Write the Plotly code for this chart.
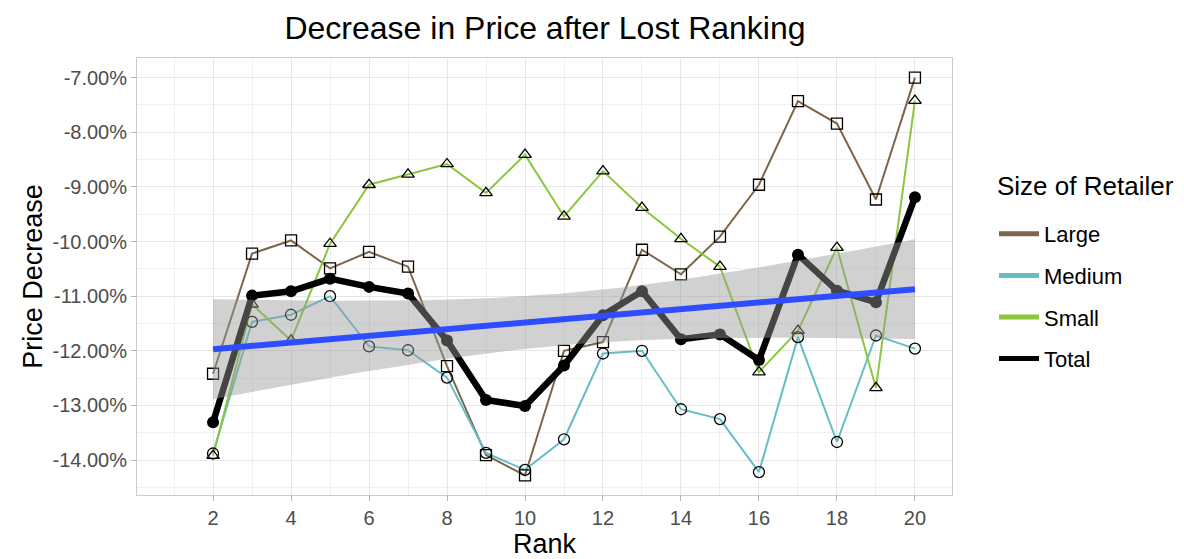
import numpy as np
import plotly.graph_objects as go

ranks = list(range(2, 21))

large = [-12.42, -10.22, -9.98, -10.49, -10.19, -10.46, -12.28, -13.91, -14.28, -12.00,
         -11.84, -10.15, -10.60, -9.91, -8.96, -7.43, -7.84, -9.23, -7.00]
medium = [-13.88, -11.47, -11.34, -11.00, -11.92, -11.99, -12.49, -13.87, -14.18, -13.62,
          -12.05, -12.00, -13.07, -13.25, -14.22, -11.75, -13.67, -11.72, -11.96]
small = [-13.92, -11.15, -11.81, -10.04, -8.96, -8.77, -8.58, -9.11, -8.41, -9.54,
         -8.71, -9.38, -9.95, -10.46, -12.39, -11.63, -10.11, -12.68, -7.42]
total = [-13.31, -10.99, -10.91, -10.68, -10.83, -10.95, -11.81, -12.90, -13.01, -12.27,
         -11.35, -10.91, -11.79, -11.70, -12.17, -10.24, -10.90, -11.11, -9.19]

series_names = ["Large", "Medium", "Small", "Total"]
series_colors = ["#7D6549", "#67BCCA", "#8CC63F", "#000000"]
y_ticks = [-14, -13, -12, -11, -10, -9, -8, -7]
x_ticks = list(range(2, 21, 2))

W, H = 1184, 559
L, R, T, B = 129, 240, 50, 72
PW, PH = W - L - R, H - T - B

fig = go.Figure()

groups = [(large, "square-open"), (medium, "circle-open"), (small, "triangle-up-open")]
for (vals, sym), name, col in zip(groups, series_names[:3], series_colors[:3]):
    fig.add_trace(go.Scatter(x=ranks, y=vals, mode="lines", line=dict(color=col, width=2),
                             showlegend=False, hoverinfo="skip"))
for (vals, sym), name, col in zip(groups, series_names[:3], series_colors[:3]):
    fig.add_trace(go.Scatter(x=ranks, y=vals, mode="markers",
                             marker=dict(symbol=sym, size=11, color="black", line=dict(width=1.3, color="black")),
                             showlegend=False, name=name))

fig.add_trace(go.Scatter(x=ranks, y=total, mode="lines+markers",
                         line=dict(color="black", width=6.5),
                         marker=dict(size=12, color="black"), showlegend=False, name="Total"))

# linear fit with 95% confidence band on Total
xa = np.array(ranks, dtype=float)
ya = np.array(total, dtype=float)
n = len(xa)
b, a = np.polyfit(xa, ya, 1)
resid = ya - (a + b * xa)
s = np.sqrt(np.sum(resid ** 2) / (n - 2))
xm = xa.mean()
sxx = np.sum((xa - xm) ** 2)
tq = 2.1098
xs = np.linspace(2, 20, 80)
fit = a + b * xs
se = s * np.sqrt(1 / n + (xs - xm) ** 2 / sxx)
upper = fit + tq * se
lower = fit - tq * se
fig.add_trace(go.Scatter(x=np.concatenate([xs, xs[::-1]]), y=np.concatenate([upper, lower[::-1]]),
                         fill="toself", fillcolor="rgba(153,153,153,0.45)", line=dict(width=0),
                         mode="lines", showlegend=False, hoverinfo="skip"))
fig.add_trace(go.Scatter(x=xs, y=fit, mode="lines", line=dict(color="#2E4DFF", width=6),
                         showlegend=False, hoverinfo="skip"))

for i, (name, col) in enumerate(zip(series_names, series_colors)):
    fig.add_trace(go.Scatter(x=[None], y=[None], mode="lines", name=name,
                             line=dict(color=col, width=5), legendgroup=name, showlegend=True))

fig.add_annotation(text="Size of Retailer", xref="paper", yref="paper",
                   x=(987 - L) / PW, y=(T + PH - 178) / PH, xanchor="left", yanchor="middle",
                   showarrow=False, font=dict(size=26, color="black"))

grid = "#E6E6E6"
fig.update_layout(
    width=W, height=H,
    margin=dict(l=L, r=R, t=T, b=B),
    paper_bgcolor="white", plot_bgcolor="white",
    font=dict(family="Liberation Sans, Arial, sans-serif", color="#4D4D4D", size=20),
    title=dict(text="Decrease in Price after Lost Ranking", x=537 / W, xanchor="center",
               y=1 - 20 / H, yanchor="middle", font=dict(size=32, color="black")),
    legend=dict(x=(986 - L) / PW, xanchor="left", y=(T + PH - 205) / PH, yanchor="top",
                font=dict(size=22, color="black"), tracegroupgap=10, traceorder="grouped",
                itemwidth=40),
    showlegend=True,
)
fig.update_xaxes(range=[0.05, 20.95], tickvals=x_ticks, ticktext=[str(t) for t in x_ticks],
                 showgrid=True, gridcolor=grid, gridwidth=1.2, zeroline=False,
                 minor=dict(dtick=1, tick0=1, showgrid=True, gridcolor="#F0F0F0", gridwidth=0.8),
                 ticks="outside", ticklen=5, tickcolor="#B3B3B3",
                 showline=True, linecolor="#CCCCCC", mirror=True,
                 title=dict(text="Rank", font=dict(size=27, color="black"), standoff=6),
                 tickfont=dict(size=20, color="#4D4D4D"))
fig.update_yaxes(range=[-14.64, -6.64], tickvals=y_ticks, ticktext=["%.2f%%" % t for t in y_ticks],
                 showgrid=True, gridcolor=grid, gridwidth=1.2, zeroline=False,
                 minor=dict(dtick=0.5, tick0=-14.5, showgrid=True, gridcolor="#F0F0F0", gridwidth=0.8),
                 ticks="outside", ticklen=5, tickcolor="#B3B3B3",
                 showline=True, linecolor="#CCCCCC", mirror=True,
                 title=dict(text="Price Decrease", font=dict(size=27, color="black"), standoff=2),
                 tickfont=dict(size=20, color="#4D4D4D"))

fig.write_html("out.html")
